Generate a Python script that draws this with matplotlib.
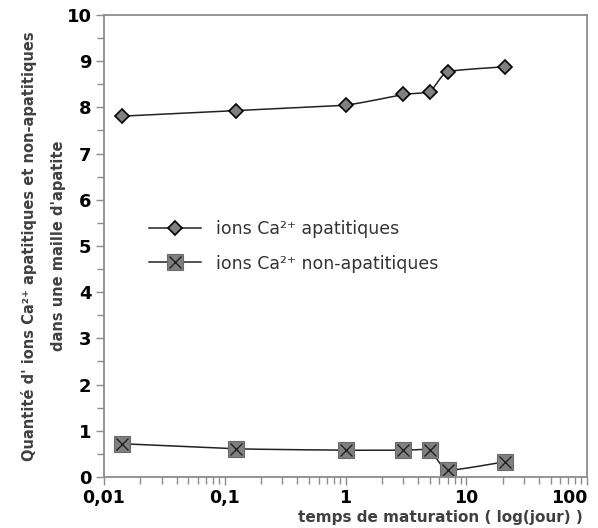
import numpy as np
import matplotlib.pyplot as plt
from matplotlib.legend_handler import HandlerTuple
from matplotlib.ticker import FixedLocator, FuncFormatter

# temps de maturation (jours) et quantités d'ions Ca2+
temps = [0.014, 0.125, 1, 3, 5, 7, 21]
ca_apat = [7.81, 7.93, 8.05, 8.28, 8.34, 8.77, 8.88]
ca_non_apat = [0.72, 0.61, 0.58, 0.58, 0.58, 0.15, 0.33]

x_ticks = [0.01, 0.1, 1, 10, 100]
x_tick_labels = ['0,01', '0,1', '1', '10', '100']


def lisse(x, y, n=30):
    # courbe lissée (Catmull-Rom) en échelle log, comme une courbe lissée d'Excel
    lx = np.log10(x)
    y = np.asarray(y, dtype=float)
    px = np.concatenate([[2 * lx[0] - lx[1]], lx, [2 * lx[-1] - lx[-2]]])
    py = np.concatenate([[2 * y[0] - y[1]], y, [2 * y[-1] - y[-2]]])
    xs, ys = [], []
    for i in range(1, len(px) - 2):
        t = np.linspace(0, 1, n)
        for p, out in ((px, xs), (py, ys)):
            p0, p1, p2, p3 = p[i - 1], p[i], p[i + 1], p[i + 2]
            m1 = (p2 - p0) / 2 * 0.5
            m2 = (p3 - p1) / 2 * 0.5
            h00 = 2 * t**3 - 3 * t**2 + 1
            h10 = t**3 - 2 * t**2 + t
            h01 = -2 * t**3 + 3 * t**2
            h11 = t**3 - t**2
            out.extend(h00 * p1 + h10 * m1 + h01 * p2 + h11 * m2)
    return 10 ** np.array(xs), np.array(ys)


fig = plt.figure(figsize=(5.98, 5.28), dpi=100)
ax = fig.add_axes([0.174, 0.0966, 0.8076, 0.875])

gris = '#808080'

xs, ys = lisse(temps, ca_apat)
ax.plot(xs, ys, color='#222222', lw=1.1)
ax.plot(temps, ca_apat, ls='none', marker='D', ms=7, mfc=gris, mec='black', mew=1.2)

xs, ys = lisse(temps, ca_non_apat)
ax.plot(xs, ys, color='#222222', lw=1.1)
ax.plot(temps, ca_non_apat, ls='none', marker='s', ms=11, mfc=gris, mec='#6a6a6a', mew=0.8)
ax.plot(temps, ca_non_apat, ls='none', marker='x', ms=9, mec='#222222', mew=1.0)

ax.set_xscale('log')
ax.set_xlim(0.01, 100)
ax.set_ylim(0, 10)
ax.xaxis.set_major_locator(FixedLocator(x_ticks))
ax.xaxis.set_major_formatter(FuncFormatter(lambda v, p: x_tick_labels[x_ticks.index(v)] if v in x_ticks else ''))
ax.set_yticks(range(0, 11))
ax.set_yticks(np.arange(0.5, 10, 1), minor=True)

for s in ax.spines.values():
    s.set_color('#8c8c8c')
    s.set_linewidth(1.3)
ax.tick_params(which='both', direction='out', color='#8c8c8c', width=1.0)
ax.tick_params(which='major', length=6, labelsize=13, pad=3)
ax.tick_params(axis='x', which='major', labelsize=12.5)
ax.tick_params(which='minor', length=5)
for lab in ax.get_xticklabels() + ax.get_yticklabels():
    lab.set_fontweight('bold')
ax.get_xticklabels()[-1].set_ha('right')

ax.set_ylabel("Quantité d' ions Ca²⁺ apatitiques et non-apatitiques\ndans une maille d'apatite",
              fontsize=10.5, fontweight='bold', color='#404040', linespacing=2.15, va='center')
ax.yaxis.set_label_coords(-0.126, 0.5)
fig.text(0.975, 0.005, 'temps de maturation ( log(jour) )', ha='right', va='bottom',
         fontsize=11, fontweight='bold', color='#404040')

h1, = ax.plot([], [], color='#222222', lw=1.1, marker='D', ms=7, mfc=gris, mec='black', mew=1.2)
h2a, = ax.plot([], [], color='#222222', lw=1.1, marker='s', ms=11, mfc=gris, mec='#6a6a6a', mew=0.8)
h2b, = ax.plot([], [], ls='none', marker='x', ms=9, mec='#222222', mew=1.0)
ax.legend([h1, (h2a, h2b)], ['ions Ca²⁺ apatitiques', 'ions Ca²⁺ non-apatitiques'],
          handler_map={tuple: HandlerTuple(ndivide=1, pad=0)},
          loc='upper left', bbox_to_anchor=(0.06, 0.59), frameon=False,
          fontsize=12.5, handlelength=3.0, labelspacing=0.95, handletextpad=0.9,
          labelcolor='#333333')

fig.savefig('out.png', dpi=100)
